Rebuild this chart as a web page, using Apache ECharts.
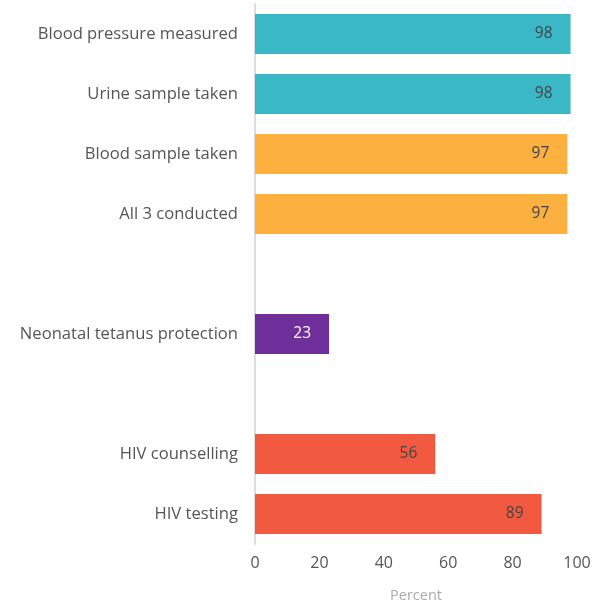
<!DOCTYPE html>
<html><head><meta charset="utf-8">
<script src="https://cdn.jsdelivr.net/npm/echarts@6/dist/echarts.min.js"></script>
<style>html,body{margin:0;padding:0;background:#fff}#c{width:606px;height:600px}</style>
</head><body><div id="c"></div>
<script>
const categories = ['Blood pressure measured','Urine sample taken','Blood sample taken','All 3 conducted','','Neonatal tetanus protection',' ','HIV counselling','HIV testing'];
const values = [98, 98, 97, 97, null, 23, null, 56, 89];
const barColors = ['#3bb8c5','#3bb8c5','#fbb040','#fbb040',null,'#6f2f9b',null,'#f15a40','#f15a40'];
const labelColors = ['#444','#444','#444','#444',null,'#fff',null,'#444','#444'];
const xTicks = [0,20,40,60,80,100];

const chart = echarts.init(document.getElementById('c'));
chart.setOption({
  animation:false,
  grid:{left:255,right:29,top:4,bottom:56,containLabel:false,outerBoundsMode:'none'},
  xAxis:{type:'value',min:xTicks[0],max:xTicks[xTicks.length-1],interval:20,
    name:'Percent',nameLocation:'middle',nameGap:44,
    nameTextStyle:{color:'#aaa',fontSize:14.5,fontFamily:'Open Sans'},
    axisLine:{show:false},axisTick:{show:false},splitLine:{show:false},
    axisLabel:{color:'#555',fontSize:16,fontFamily:'Open Sans',margin:11}},
  yAxis:{type:'category',inverse:true,data:categories,
    axisLine:{show:true,lineStyle:{color:'#ddd',width:2}},axisTick:{show:false},
    axisLabel:{color:'#555',fontSize:16.6,fontFamily:'Open Sans',margin:17}},
  series:[{type:'bar',barCategoryGap:'33%',
    data:values.map((v,i)=>v==null?null:{value:v,itemStyle:{color:barColors[i]},label:{color:labelColors[i]}}),
    label:{show:true,position:'insideRight',distance:18,fontSize:15.5,fontFamily:'Open Sans'}}]
});
</script></body></html>
